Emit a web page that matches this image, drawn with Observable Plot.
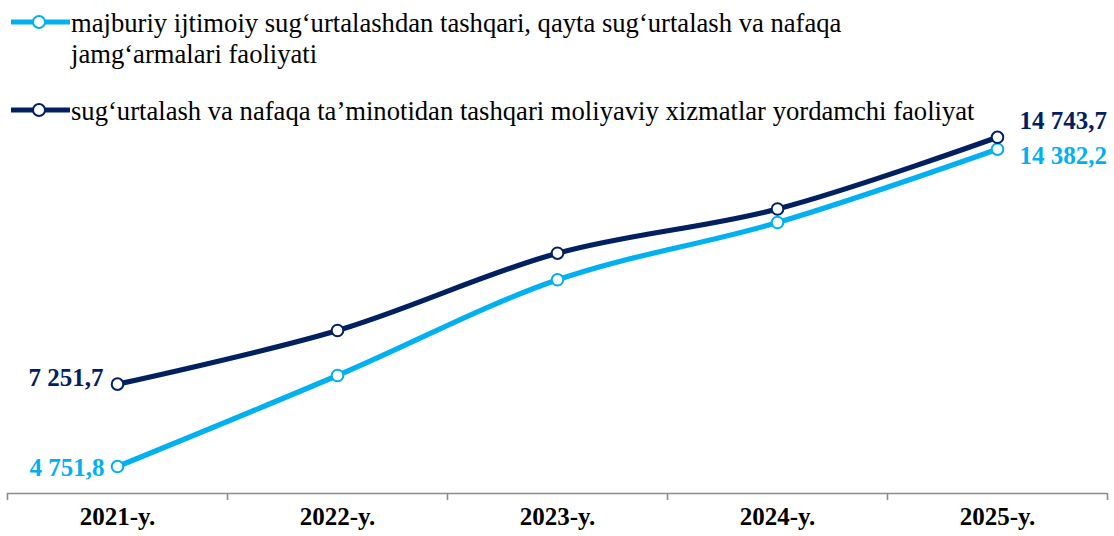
<!DOCTYPE html>
<html>
<head>
<meta charset="utf-8">
<script src="https://cdn.jsdelivr.net/npm/d3@7"></script>
<script src="https://cdn.jsdelivr.net/npm/@observablehq/plot@0.6"></script>
<style>
  html, body { margin: 0; padding: 0; background: #fff; }
  #wrap { position: relative; width: 1114px; height: 536px; overflow: hidden; }
  #chart { position: absolute; left: 0; top: 0; }
  #legend { position: absolute; left: 0; top: 0; pointer-events: none; }
  #legend text, #legend tspan { font-family: "Liberation Serif", "Times New Roman", serif; }
</style>
</head>
<body>
<div id="wrap">
  <div id="chart"></div>
  <svg id="legend" width="1114" height="170"></svg>
</div>
<script>
// ---- data ----
const years = ["2021-y.", "2022-y.", "2023-y.", "2024-y.", "2025-y."];
const seriesNames = [
  "majburiy ijtimoiy sug‘urtalashdan tashqari, qayta sug‘urtalash va nafaqa jamg‘armalari faoliyati",
  "sug‘urtalash va nafaqa ta’minotidan tashqari moliyaviy xizmatlar yordamchi faoliyat"
];
const seriesColors = ["#00B0F0", "#002060"];
const valuesA = [4751.8, 7514, 10419, 12158, 14382.2];
const valuesB = [7251.7, 8880, 11226, 12568, 14743.7];
const labelA = ["4 751,8", "14 382,2"];
const labelB = ["7 251,7", "14 743,7"];

// ---- table ----
const rows = [];
[valuesA, valuesB].forEach((vals, s) => vals.forEach((v, i) => rows.push({s, i, v})));
const boundaries = years.map((_, i) => i - 0.5).concat(years.length - 0.5);
const idx = years.map((_, i) => i);
const last = years.length - 1;
const labelRows = [
  {s: 0, i: 0, v: valuesA[0], t: labelA[0], anchor: "end", dx: -13, dy: 1},
  {s: 0, i: last, v: valuesA[last], t: labelA[1], anchor: "start", dx: 22, dy: 7},
  {s: 1, i: 0, v: valuesB[0], t: labelB[0], anchor: "end", dx: -14, dy: -6},
  {s: 1, i: last, v: valuesB[last], t: labelB[1], anchor: "start", dx: 22, dy: -16}
];

const font = "'Liberation Serif', 'Times New Roman', serif";
const yMin = 3933;

const plot = Plot.plot({
  width: 1114,
  height: 536,
  marginLeft: 7,
  marginRight: 7,
  marginTop: 40,
  marginBottom: 43,
  style: {fontFamily: font, background: "transparent", overflow: "visible"},
  x: {type: "linear", domain: [-0.5, years.length - 0.5], axis: null},
  y: {domain: [yMin, 17682], axis: null},
  marks: [
    Plot.ruleY([yMin], {stroke: "#8c8c8c", strokeWidth: 1.6}),
    Plot.ruleX(boundaries, {x: d => d, y1: yMin, y2: yMin, insetBottom: -7, stroke: "#8c8c8c", strokeWidth: 1.6}),
    Plot.text(idx, {x: d => d, text: d => years[d], frameAnchor: "bottom", dy: 31, fontSize: 25, fontWeight: "bold", fill: "#000"}),
    Plot.line(rows, {x: "i", y: "v", z: "s", stroke: d => seriesColors[d.s], strokeWidth: 5.2, curve: "catmull-rom"}),
    Plot.dot(rows, {x: "i", y: "v", r: 5.8, fill: "white", stroke: d => seriesColors[d.s], strokeWidth: 2}),
    ...labelRows.map(d => Plot.text([d], {x: "i", y: "v", text: "t", textAnchor: d.anchor, dx: d.dx, dy: d.dy, fill: seriesColors[d.s], fontSize: 25, fontWeight: "bold"}))
  ]
});
document.getElementById("chart").appendChild(plot);

// ---- legend ----
const leg = d3.select("#legend");
const textX = 71;
const legBaselines = [32, 120];
const lineHeight = 31;
const wrapWidths = [790, 1030];

// fit font size so the second entry spans its width in the reference
const probe = leg.append("text").attr("font-size", 25).attr("font-family", "Liberation Serif").text(seriesNames[1]);
const w25 = probe.node().getComputedTextLength();
probe.remove();
const fs = Math.max(22, Math.min(27, 25 * 904 / w25));

seriesNames.forEach((name, s) => {
  const c = seriesColors[s];
  const by = legBaselines[s];
  const my = by - 10;
  leg.append("line").attr("x1", 11).attr("x2", 70).attr("y1", my).attr("y2", my)
    .attr("stroke", c).attr("stroke-width", 5);
  leg.append("circle").attr("cx", 39).attr("cy", my).attr("r", 6)
    .attr("fill", "white").attr("stroke", c).attr("stroke-width", 2);
  const words = name.split(" ");
  const t = leg.append("text").attr("font-size", fs).attr("font-family", "Liberation Serif").attr("fill", "#000");
  let line = [], lineNo = 0;
  let tspan = t.append("tspan").attr("x", textX).attr("y", by);
  for (const w of words) {
    line.push(w);
    tspan.text(line.join(" "));
    if (tspan.node().getComputedTextLength() > wrapWidths[s] && line.length > 1) {
      line.pop();
      tspan.text(line.join(" "));
      line = [w];
      lineNo++;
      tspan = t.append("tspan").attr("x", textX).attr("y", by + lineNo * lineHeight).text(w);
    }
  }
});
</script>
</body>
</html>
